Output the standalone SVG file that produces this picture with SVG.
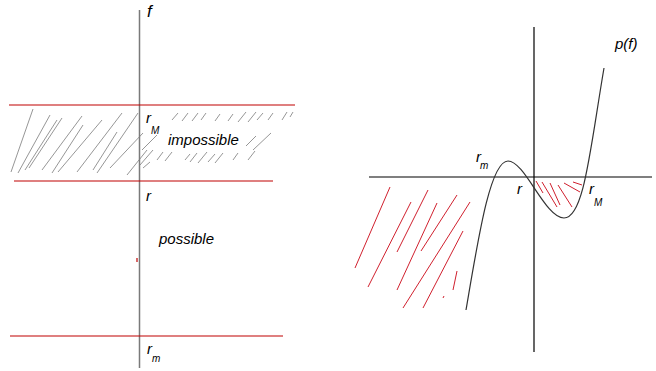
<svg xmlns="http://www.w3.org/2000/svg" width="656" height="371" viewBox="0 0 656 371">
<style>
.red{stroke:#c00000;stroke-width:1.2;fill:none}
.hg{stroke:#8a8a8a;stroke-width:0.9;fill:none}
.hr{stroke:#d0202e;stroke-width:1;fill:none}
.ax{stroke:#000;stroke-width:1.2;fill:none}
.t{font-family:"Liberation Sans",Arial,sans-serif;font-style:italic;font-size:15px;fill:#000}
.s{font-family:"Liberation Sans",Arial,sans-serif;font-style:italic;font-size:10px;fill:#000}
</style>
<rect width="656" height="371" fill="#fff"/>
<g id="left-hatch">
<path class="hg" d="M33,109L11,172M50,115L18,173M57,120L25,170M62,118L29,168M82,116L42,170M83,125L52,173M102,120L58,172M122,113L77,172M117,132L93,170M138,113L97,173M143,133L110,168M147,150L127,175M157,135L142,150M153,150L140,165M150,162L143,168"/>
<path class="hg" d="M178,113L172,120M188,113L182,121M198,113L192,121M206,113L201,120M220,114L215,121M233,114L228,121M246,112L238,122M256,112L248,122M263,113L257,120M273,113L268,120M287,112L282,120M293,112L290,117M256,136L246,146M271,133L253,150M163,152L157,160M172,152L165,161M190,154L185,160M197,153L190,162M207,152L198,163M215,154L208,162M223,153L215,163M238,153L233,160M255,151L248,160"/>
</g>
<g id="left-axis">
<line x1="139.5" y1="10" x2="139.5" y2="368" stroke="#7a7a7a" stroke-width="1.5"/>
<text class="t" x="147" y="17" style="font-size:17px">f</text>
</g>
<g id="bound-rM">
<line class="red" x1="9" y1="105" x2="295" y2="105"/>
<text class="t" x="146" y="123">r</text>
<text class="s" x="151" y="134">M</text>
<text class="t" x="168" y="145">impossible</text>
</g>
<g id="bound-r">
<line class="red" x1="14" y1="181" x2="273" y2="181"/>
<text class="t" x="146" y="201">r</text>
<text class="t" x="159" y="244">possible</text>
<line class="red" x1="137" y1="258" x2="137" y2="262"/>
</g>
<g id="bound-rm">
<line class="red" x1="10" y1="336" x2="283" y2="336"/>
<text class="t" x="147" y="354">r</text>
<text class="s" x="152" y="362">m</text>
</g>
<g id="right-hatch">
<path class="hr" d="M390,187L355,268M411,202L368,287M428,190L397,252M437,203L397,290M457,195L421,251M470,202L403,308M463,231L423,308M457,271L453,290M444,296L443,298"/>
<path class="hr" d="M536,181L543,193M542,182L557,207M550,183L560,205M558,185L572,207M564,183L580,192M573,182L582,185"/>
</g>
<g id="right-axes">
<line class="ax" x1="369" y1="177" x2="652" y2="177"/>
<line class="ax" x1="534" y1="27" x2="534" y2="352"/>
</g>
<g id="curve">
<path d="M466,310C478,240 490,161 508,161C525,161 545,218 564,218C584,218 590,150 604,68" fill="none" stroke="#333" stroke-width="1.2"/>
<text class="t" x="615" y="49">p(f)</text>
<text class="t" x="476" y="162">r</text>
<text class="s" x="480" y="169">m</text>
<text class="t" x="517" y="194">r</text>
<text class="t" x="589" y="194">r</text>
<text class="s" x="594" y="206" fill="#555">M</text>
</g>
</svg>
